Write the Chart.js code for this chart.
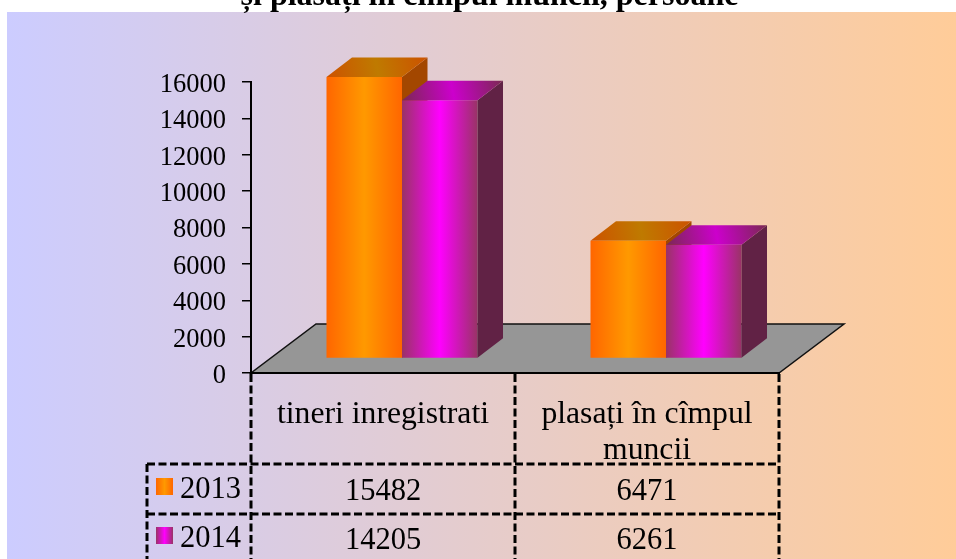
<!DOCTYPE html>
<html><head><meta charset="utf-8">
<style>html,body{margin:0;padding:0;background:#fff;overflow:hidden}canvas{display:block}</style>
<script src="https://cdn.jsdelivr.net/npm/chart.js@4"></script>
</head><body><canvas id="c" width="956" height="559"></canvas>
<script>
const categories = ["tineri inregistrati", ["plasați în cîmpul", "muncii"]];
const seriesNames = ["2013", "2014"];
const values2013 = [15482, 6471];
const values2014 = [14205, 6261];
const titleText = "și plasați în cîmpul muncii, persoane";

const SERIF = '"Liberation Serif","Times New Roman",serif';
const CAT_PCT = 0.572;
const FRONT = {x: 19, y: -14.5};   // bars stand on the middle of the floor
const DEPTH = {x: 25.5, y: -19.5};
const FLOOR = {x: 65, y: -49};
const palette = [
  {edge:"#FF6600", mid:"#FF9900", topEdge:"#CC5200", topMid:"#BF7A00", side:"#A34700"},
  {edge:"#993366", mid:"#FF00FF", topEdge:"#7A2952", topMid:"#CC00CC", side:"#612245"}
];
function hGrad(ctx, x0, x1, a, b){
  const g = ctx.createLinearGradient(x0,0,x1,0);
  g.addColorStop(0,a); g.addColorStop(.5,b); g.addColorStop(1,a);
  return g;
}
function frontFill(c){
  const xs = c.chart.scales.x;
  if(!xs || !xs.width) return palette[c.datasetIndex].mid;
  const w = xs.width/categories.length*CAT_PCT;
  const l = xs.getPixelForValue(c.dataIndex)-w/2+c.datasetIndex*w/2;
  const p = palette[c.datasetIndex];
  return hGrad(c.chart.ctx,l,l+w/2,p.edge,p.mid);
}
function drawFaces(chart,index){
  const ctx=chart.ctx, p=palette[index];
  ctx.save(); ctx.translate(FRONT.x,FRONT.y);
  chart.getDatasetMeta(index).data.forEach(el=>{
    const l=el.x-el.width/2, r=el.x+el.width/2, t=el.y, b=el.base;
    ctx.beginPath(); ctx.moveTo(r,t); ctx.lineTo(r+DEPTH.x,t+DEPTH.y); ctx.lineTo(r+DEPTH.x,b+DEPTH.y); ctx.lineTo(r,b); ctx.closePath();
    ctx.fillStyle=p.side; ctx.fill();
    ctx.beginPath(); ctx.moveTo(l,t); ctx.lineTo(r,t); ctx.lineTo(r+DEPTH.x,t+DEPTH.y); ctx.lineTo(l+DEPTH.x,t+DEPTH.y); ctx.closePath();
    const g=ctx.createLinearGradient(l,t,r+DEPTH.x,t+DEPTH.y);
    g.addColorStop(0,p.topEdge); g.addColorStop(.5,p.topMid); g.addColorStop(1,p.topEdge);
    ctx.fillStyle=g; ctx.fill();
  });
  ctx.restore();
}
const scene = {
  id:"scene",
  beforeDraw(chart){
    const {ctx,chartArea:a} = chart;
    ctx.save();
    ctx.fillStyle="#fff"; ctx.fillRect(0,0,956,559);
    const g = ctx.createLinearGradient(7,0,956,0);
    g.addColorStop(0,"#CCCCFF"); g.addColorStop(1,"#FFCC99");
    ctx.fillStyle=g; ctx.fillRect(7,12,949,547);
    ctx.fillStyle="#000"; ctx.font='bold 32px '+SERIF; ctx.textAlign="center"; ctx.textBaseline="alphabetic";
    ctx.fillText(titleText,489.5,5);
    ctx.beginPath();
    ctx.moveTo(a.left,a.bottom); ctx.lineTo(a.right,a.bottom);
    ctx.lineTo(a.right+FLOOR.x,a.bottom+FLOOR.y); ctx.lineTo(a.left+FLOOR.x,a.bottom+FLOOR.y); ctx.closePath();
    ctx.fillStyle="#969696"; ctx.fill();
    ctx.strokeStyle="#111"; ctx.lineWidth=1.5; ctx.stroke();
    ctx.restore();
  },
  beforeDatasetsDraw(chart){ drawFaces(chart,0); },
  beforeDatasetDraw(chart){ chart.ctx.save(); chart.ctx.translate(FRONT.x,FRONT.y); },
  afterDatasetDraw(chart){ chart.ctx.restore(); },
  afterDatasetsDraw(chart){ drawFaces(chart,1); },
  afterDraw(chart){
    const {ctx,chartArea:a,scales:{x}} = chart;
    const rows=[464,514], left=147, bottom=559;
    const cw=x.width/categories.length;
    ctx.save();
    ctx.strokeStyle="#000"; ctx.lineWidth=3; ctx.setLineDash([8,3.5]);
    ctx.beginPath();
    [0,1,2].forEach(i=>{ctx.moveTo(a.left+i*cw,a.bottom+1);ctx.lineTo(a.left+i*cw,bottom);});
    ctx.moveTo(left,rows[0]);ctx.lineTo(left,bottom);
    rows.forEach(y=>{ctx.moveTo(left,y);ctx.lineTo(a.right,y);});
    ctx.stroke();
    ctx.setLineDash([]);
    ctx.font='30.5px '+SERIF; ctx.textBaseline="alphabetic";
    chart.data.datasets.forEach((d,i)=>{
      const base=rows[i]+35.5-i;
      const sy=rows[i]+14-i;
      ctx.fillStyle=hGrad(ctx,156,173,palette[i].edge,palette[i].mid);
      ctx.fillRect(156,sy,17,17);
      ctx.fillStyle="#000"; ctx.textAlign="left";
      ctx.fillText(d.label,180,base-2);
      ctx.textAlign="center";
      d.data.forEach((v,j)=>ctx.fillText(String(v),x.getPixelForValue(j),base));
    });
    ctx.restore();
  }
};
new Chart(document.getElementById("c"),{
  type:"bar",
  data:{labels:categories,datasets:[
    {label:seriesNames[0],data:values2013,backgroundColor:frontFill,borderWidth:0,clip:false},
    {label:seriesNames[1],data:values2014,backgroundColor:frontFill,borderWidth:0,clip:false}
  ]},
  plugins:[scene],
  options:{
    responsive:false,animation:false,
    datasets:{bar:{categoryPercentage:CAT_PCT,barPercentage:1}},
    layout:{padding:{left:0,top:82,right:177,bottom:0}},
    plugins:{legend:{display:false},title:{display:false},tooltip:{enabled:false}},
    scales:{
      y:{min:0,max:16000,
        ticks:{stepSize:2000,color:"#000",padding:16,labelOffset:3,font:{family:SERIF,size:26.5},callback:v=>String(v)},
        grid:{drawOnChartArea:false,drawTicks:true,tickLength:9,color:"#000",lineWidth:1.5},
        border:{display:true,color:"#000",width:2},
        afterFit(s){s.width=251;}},
      x:{ticks:{color:"#000",padding:16,maxRotation:0,autoSkip:false,font:{family:SERIF,size:31.7,lineHeight:1.123}},
        grid:{display:false},
        border:{display:true,color:"#000",width:2},
        afterFit(s){s.height=186;}}
    }
  }
});
</script></body></html>
